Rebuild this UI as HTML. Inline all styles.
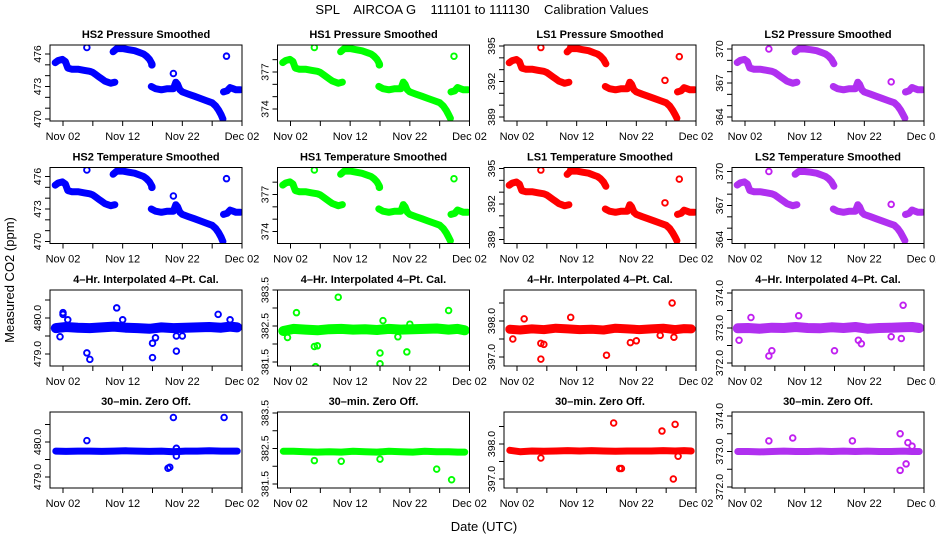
<!DOCTYPE html>
<html><head><meta charset="utf-8"><title>SPL AIRCOA G Calibration Values</title>
<style>
html,body{margin:0;padding:0;background:#fff;}
svg{display:block;font-family:"Liberation Sans",Arial,sans-serif;}
.pt{font-weight:bold;font-size:11px;}
.tk{font-size:11px;}
.yt{font-size:10.5px;}
.ttl{white-space:pre;}
</style></head>
<body>
<svg id="chart" width="936" height="540" viewBox="0 0 936 540">
<rect width="936" height="540" fill="#fff"/>
<text x="482" y="14" text-anchor="middle" font-size="13" class="ttl" xml:space="preserve">SPL    AIRCOA G    111101 to 111130    Calibration Values</text>
<text transform="translate(14,280) rotate(-90)" text-anchor="middle" font-size="13">Measured CO2 (ppm)</text>
<text x="484" y="531" text-anchor="middle" font-size="13">Date (UTC)</text>
</svg>
<script>
// ---- Data (days = day of November; Nov 02 = 2, Dec 02 = 32) ----
const xTickDays = [2,7,12,17,22,27,32];
const xTickLabels = ["Nov 02","","Nov 12","","Nov 22","","Dec 02"];
const segDays = [
  [0.7,1.2,1.9,2.4,2.8,3.5,4.5,5.5,6.5,7.0,7.5,8.0,8.5,9.0,9.5,10.0,10.7],
  [10.4,11,12,13,14,15,15.5,16,16.5,16.9],
  [16.8,17.5,18.5,19.5,20.5,20.9,21.2,21.6,22,23,24,25,26,27,27.6,28.1,28.5,28.8],
  [28.9,29.5,30,30.5,31,31.7]
];
const hs2Segs = [
  [475.2,475.4,475.5,475.3,474.7,474.6,474.6,474.5,474.4,474.3,474.1,473.9,473.7,473.5,473.4,473.3,473.4],
  [476.2,476.5,476.5,476.4,476.3,476.1,476.0,475.8,475.5,475.1],
  [473.0,472.8,472.7,472.8,472.8,473.4,473.2,472.7,472.5,472.3,472.1,471.9,471.7,471.5,471.2,470.8,470.4,470.0],
  [472.5,472.6,472.9,472.8,472.7,472.7]
];
const hs2OutDays = [6.0,20.5,29.4,16.9];
const hs2OutVals = [476.6,474.2,475.8,475.0];
const hs1Segs = [
  [377.76,377.93,378.02,377.85,377.32,377.23,377.23,377.14,377.06,376.97,376.79,376.62,376.44,376.27,376.18,376.09,376.18],
  [378.64,378.9,378.9,378.81,378.72,378.55,378.46,378.28,378.02,377.67],
  [375.83,375.65,375.56,375.65,375.65,376.18,376.0,375.56,375.39,375.21,375.04,374.86,374.69,374.51,374.25,373.9,373.54,373.25],
  [375.39,375.47,375.74,375.65,375.56,375.56]
];
const hs1OutDays = [6.0,29.4,16.9];
const hs1OutVals = [378.99,378.28,377.58];
const ls1Segs = [
  [393.59,393.77,393.86,393.68,393.13,393.04,393.04,392.95,392.86,392.76,392.58,392.4,392.22,392.03,391.94,391.85,391.94],
  [394.5,394.78,394.78,394.69,394.6,394.41,394.32,394.14,393.86,393.5],
  [391.58,391.39,391.3,391.39,391.39,391.94,391.76,391.3,391.12,390.93,390.75,390.57,390.39,390.2,389.93,389.56,389.2,388.9],
  [391.12,391.21,391.48,391.39,391.3,391.3]
];
const ls1OutDays = [6.0,11.0,26.8,29.2];
const ls1OutVals = [394.87,394.87,392.1,394.1];
const ls2Segs = [
  [368.8,368.99,369.08,368.89,368.32,368.22,368.22,368.13,368.03,367.93,367.74,367.55,367.36,367.17,367.07,366.98,367.07],
  [369.75,370.0,370.0,369.94,369.85,369.66,369.56,369.37,369.08,368.7],
  [366.69,366.5,366.4,366.5,366.5,367.07,366.88,366.4,366.21,366.02,365.83,365.64,365.45,365.26,364.97,364.59,364.2,363.9],
  [366.21,366.31,366.6,366.5,366.4,366.4]
];
const ls2OutDays = [6.0,26.5];
const ls2OutVals = [370.0,367.1];

const bandDays = [0.8,2.5,4.5,6.5,8.5,10.5,12.5,14.5,16.5,18.5,20.5,22.5,24.5,26.5,28.5,30.0,31.2];
const cal4HS2 = [479.72,479.75,479.73,479.72,479.74,479.76,479.73,479.72,479.70,479.74,479.72,479.73,479.74,479.75,479.73,479.76,479.74];
const cal4HS2OutD = [2.0,2.0,1.5,2.8,6.0,6.5,11.0,12.0,17.0,17.0,17.5,21.0,21.0,22.0,28.0,30.0];
const cal4HS2OutV = [480.1,480.15,479.48,479.95,479.03,478.85,480.28,479.95,479.3,478.9,479.45,479.08,479.5,479.5,480.1,479.95];
const cal4HS1 = [382.36,382.42,382.40,382.38,382.41,382.42,382.40,382.41,382.39,382.42,382.40,382.41,382.42,382.43,382.40,382.42,382.38];
const cal4HS1OutD = [3.0,1.5,6.0,6.5,6.2,10.0,17.0,17.0,21.5,28.5,17.5,20.0,22.0];
const cal4HS1OutV = [382.87,382.18,381.93,381.95,381.37,383.3,381.75,381.45,381.78,382.93,382.65,382.2,382.55];
const cal4LS1 = [397.77,397.75,397.78,397.76,397.80,397.78,397.76,397.77,397.75,397.80,397.78,397.76,397.78,397.80,397.76,397.79,397.78];
const cal4LS1OutD = [1.3,3.2,6.0,6.5,6.0,11.0,11.0,17.0,21.0,22.0,28.0,28.3,26.0];
const cal4LS1OutV = [397.5,398.06,397.38,397.35,396.94,398.1,399.05,397.05,397.4,397.45,398.5,397.55,397.6];
const cal4LS2 = [372.99,373.0,372.98,373.01,373.0,373.03,373.0,372.99,373.02,373.0,373.03,372.98,373.0,373.01,373.02,373.03,373.0];
const cal4LS2OutD = [1.0,3.0,6.0,6.5,11.0,17.0,21.0,21.5,28.2,28.5,26.5];
const cal4LS2OutV = [372.65,373.3,372.2,372.35,373.35,372.35,372.65,372.55,372.7,373.65,372.75];
const zeroHS2 = [479.74,479.73,479.74,479.74,479.73,479.74,479.75,479.74,479.73,479.74,479.72,479.74,479.74,479.75,479.74,479.74,479.74];
const zeroHS2OutD = [6.0,19.6,19.9,20.5,29.0,21.0,21.0];
const zeroHS2OutV = [480.04,479.25,479.28,480.7,480.7,479.6,479.82];
const zeroHS1 = [382.42,382.42,382.41,382.40,382.41,382.40,382.42,382.41,382.40,382.42,382.41,382.40,382.42,382.41,382.41,382.40,382.40];
const zeroHS1OutD = [6.0,10.5,17.0,26.5,29.0];
const zeroHS1OutV = [382.16,382.14,382.2,381.92,381.62];
const zeroLS1 = [397.82,397.78,397.80,397.79,397.80,397.81,397.80,397.81,397.80,397.79,397.80,397.80,397.80,397.81,397.80,397.81,397.80];
const zeroLS1OutD = [6.0,18.2,19.2,19.5,26.3,28.5,28.2,29.0];
const zeroLS1OutV = [397.6,398.6,397.3,397.3,398.37,398.56,397.0,397.65];
const zeroLS2 = [373.0,373.0,372.99,373.0,373.01,373.0,373.0,373.01,373.0,373.01,373.0,373.01,373.0,373.0,373.01,373.0,373.0];
const zeroLS2OutD = [6.0,10.0,20.0,28.0,28.0,29.0,29.3,30.0];
const zeroLS2OutV = [373.3,373.38,373.3,373.5,372.47,372.65,373.25,373.15];

// ---- Layout ----
const colLeft = [50,277.5,504,732];
const boxW = 192;
const rowTop = [45,167.5,290,412];
const boxH = 76;
const colors = ["#0000ff","#00ff00","#ff0000","#b030f0"];
const NS = "http://www.w3.org/2000/svg";
const svg = document.getElementById("chart");

function el(tag, attrs, parent){
  const e = document.createElementNS(NS, tag);
  for (const k in attrs) e.setAttribute(k, attrs[k]);
  (parent||svg).appendChild(e);
  return e;
}

const panels = [
 {r:0,c:0,t:"HS2 Pressure Smoothed",vA:476,pA:54,vB:470,pB:119,tk:[470,471,472,473,474,475,476],lb:[470,473,476],dec:0,segs:hs2Segs,od:hs2OutDays,ov:hs2OutVals},
 {r:0,c:1,t:"HS1 Pressure Smoothed",vA:377,pA:72,vB:374,pB:109,tk:[374,375,376,377,378],lb:[374,377],dec:0,segs:hs1Segs,od:hs1OutDays,ov:hs1OutVals},
 {r:0,c:2,t:"LS1 Pressure Smoothed",vA:395,pA:46,vB:389,pB:117,tk:[389,390,391,392,393,394,395],lb:[389,392,395],dec:0,segs:ls1Segs,od:ls1OutDays,ov:ls1OutVals},
 {r:0,c:3,t:"LS2 Pressure Smoothed",vA:370,pA:49,vB:364,pB:117,tk:[364,365,366,367,368,369,370],lb:[364,367,370],dec:0,segs:ls2Segs,od:ls2OutDays,ov:ls2OutVals},
 {r:1,c:0,t:"HS2 Temperature Smoothed",vA:476,pA:176.5,vB:470,pB:241.5,tk:[470,471,472,473,474,475,476],lb:[470,473,476],dec:0,segs:hs2Segs,od:hs2OutDays,ov:hs2OutVals},
 {r:1,c:1,t:"HS1 Temperature Smoothed",vA:377,pA:194.5,vB:374,pB:231.5,tk:[374,375,376,377,378],lb:[374,377],dec:0,segs:hs1Segs,od:hs1OutDays,ov:hs1OutVals},
 {r:1,c:2,t:"LS1 Temperature Smoothed",vA:395,pA:168.5,vB:389,pB:239.5,tk:[389,390,391,392,393,394,395],lb:[389,392,395],dec:0,segs:ls1Segs,od:ls1OutDays,ov:ls1OutVals},
 {r:1,c:3,t:"LS2 Temperature Smoothed",vA:370,pA:171.5,vB:364,pB:239.5,tk:[364,365,366,367,368,369,370],lb:[364,367,370],dec:0,segs:ls2Segs,od:ls2OutDays,ov:ls2OutVals},
 {r:2,c:0,t:"4\u2013Hr. Interpolated 4\u2013Pt. Cal.",vA:480,pA:318,vB:479,pB:354,tk:[479,479.5,480,480.5],lb:[479,480],dec:1,band:cal4HS2,bw:10,od:cal4HS2OutD,ov:cal4HS2OutV},
 {r:2,c:1,t:"4\u2013Hr. Interpolated 4\u2013Pt. Cal.",vA:383.5,pA:290,vB:381.5,pB:362,tk:[381.5,382,382.5,383,383.5],lb:[381.5,382.5,383.5],dec:1,band:cal4HS1,bw:10,od:cal4HS1OutD,ov:cal4HS1OutV},
 {r:2,c:2,t:"4\u2013Hr. Interpolated 4\u2013Pt. Cal.",vA:398,pA:321,vB:397,pB:357,tk:[397,397.5,398,398.5],lb:[397,398],dec:1,band:cal4LS1,bw:9,od:cal4LS1OutD,ov:cal4LS1OutV},
 {r:2,c:3,t:"4\u2013Hr. Interpolated 4\u2013Pt. Cal.",vA:374,pA:293,vB:372,pB:363,tk:[372,372.5,373,373.5,374],lb:[372,373,374],dec:1,band:cal4LS2,bw:10,od:cal4LS2OutD,ov:cal4LS2OutV},
 {r:3,c:0,t:"30\u2013min. Zero Off.",vA:480,pA:442,vB:479,pB:477,tk:[479,479.5,480,480.5],lb:[479,480],dec:1,band:zeroHS2,bw:7,od:zeroHS2OutD,ov:zeroHS2OutV},
 {r:3,c:1,t:"30\u2013min. Zero Off.",vA:383.5,pA:413,vB:381.5,pB:484,tk:[381.5,382,382.5,383,383.5],lb:[381.5,382.5,383.5],dec:1,band:zeroHS1,bw:7,od:zeroHS1OutD,ov:zeroHS1OutV},
 {r:3,c:2,t:"30\u2013min. Zero Off.",vA:398,pA:444,vB:397,pB:479,tk:[397,397.5,398,398.5],lb:[397,398],dec:1,band:zeroLS1,bw:7,od:zeroLS1OutD,ov:zeroLS1OutV},
 {r:3,c:3,t:"30\u2013min. Zero Off.",vA:374,pA:416,vB:372,pB:487,tk:[372,372.5,373,373.5,374],lb:[372,373,374],dec:1,band:zeroLS2,bw:7,od:zeroLS2OutD,ov:zeroLS2OutV}
];

panels.forEach((p, i) => {
  const L = colLeft[p.c], T = rowTop[p.r], R = L + boxW, B = T + boxH;
  const xS = d => (L + 13) + (d - 2) * (179 / 30);
  const yS = v => p.pA + (v - p.vA) * (p.pB - p.pA) / (p.vB - p.vA);
  const col = colors[p.c];
  const g = el("g", {});
  
  
  const t = el("text", {x: L + boxW/2, y: T - 7, "text-anchor":"middle", class:"pt"}, g);
  t.textContent = p.t;
  
  
  const clipId = "clip" + i;
  const cp = el("clipPath", {id: clipId}, g);
  el("rect", {x:L, y:T, width:boxW, height:boxH}, cp);
  const data = el("g", {"clip-path":"url(#"+clipId+")"}, g);
  
  
  if (p.segs) {
    p.segs.forEach((s, si) => {
      const pts = s.map((v, k) => xS(segDays[si][k]).toFixed(1) + "," + yS(v).toFixed(1)).join(" ");
      const pl = el("polyline", {points: pts, fill:"none", stroke: col, "stroke-width": 7, "stroke-linejoin":"round", "stroke-linecap":"round"}, data);
      
      
    });
  } else {
    const pts = p.band.map((v, k) => xS(bandDays[k]).toFixed(1) + "," + yS(v).toFixed(1)).join(" ");
    const pl = el("polyline", {points: pts, fill:"none", stroke: col, "stroke-width": p.bw, "stroke-linejoin":"round", "stroke-linecap":"round"}, data);
    
    
  }
  p.od.forEach((d, k) => {
    const c = el("circle", {cx: xS(d), cy: yS(p.ov[k]), r: 2.8, fill:"none", stroke: p.c===3 ? "#c020f0" : col, "stroke-width": 1.9}, data);
    
    
  });
  const bx = el("rect", {x:L, y:T, width:boxW, height:boxH, fill:"none", stroke:"#000", "stroke-width":1}, g);
  
  
  const xa = el("g", {}, g);
  
  
  xTickDays.forEach((d, k) => {
    const x = xS(d);
    el("line", {x1:x, x2:x, y1:B, y2:B+5, stroke:"#000"}, xa);
    if (xTickLabels[k]) {
      const tx = el("text", {x:x, y:B+19, "text-anchor":"middle", class:"tk"}, xa);
      tx.textContent = xTickLabels[k];
    }
  });
  const ya = el("g", {}, g);
  
  
  p.tk.forEach(v => {
    const y = yS(v);
    el("line", {x1:L-5, x2:L, y1:y, y2:y, stroke:"#000"}, ya);
  });
  p.lb.forEach(v => {
    const y = yS(v);
    const tx = el("text", {transform:"translate(" + (L-9) + "," + y + ") rotate(-90)", "text-anchor":"middle", class:"yt"}, ya);
    tx.textContent = v.toFixed(p.dec);
  });
});
</script>
</body></html>
